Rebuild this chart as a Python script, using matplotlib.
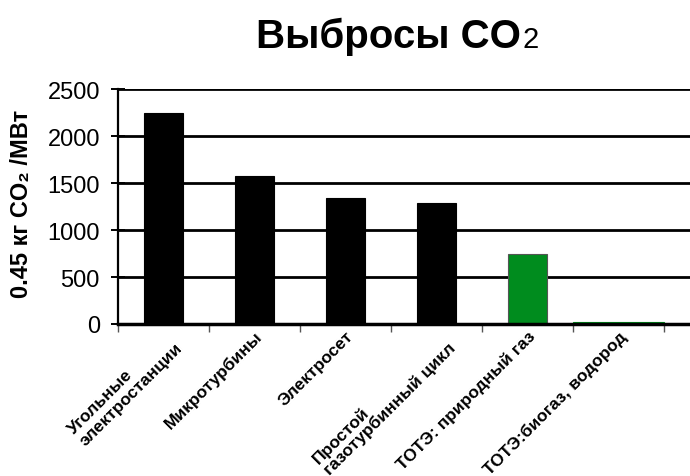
import matplotlib
matplotlib.use("Agg")
import matplotlib.pyplot as plt
import matplotlib.transforms as mtransforms
import numpy as np

plt.rcParams['font.family'] = ['Liberation Sans', 'DejaVu Sans']

categories = ["Угольные\nэлектростанции", "Микротурбины", "Электросет",
              "Простой\nгазотурбинный цикл", "ТОТЭ: природный газ",
              "ТОТЭ:биогаз, водород"]
values = [2250, 1580, 1340, 1290, 740, 25]
colors = ["#000000", "#000000", "#000000", "#000000", "#008c1e", "#008c1e"]
widths = [0.42, 0.42, 0.42, 0.42, 0.42, 1.0]
yticks = [0, 500, 1000, 1500, 2000, 2500]

fig = plt.figure(figsize=(6.9, 4.77), dpi=100)
ax = fig.add_axes([0.171, 0.3187, 0.829, 0.4923])

x = np.arange(len(categories))
for i in range(len(categories)):
    ax.bar(x[i], values[i], width=widths[i], color=colors[i],
           edgecolor="#555555" if i == 4 else colors[i], linewidth=0.8, zorder=3)

ax.set_xlim(-0.5, 5.786)
ax.set_ylim(0, 2500)
ax.set_yticks(yticks)
ax.yaxis.grid(True, color="black", linewidth=2)
ax.set_axisbelow(True)
for s in ["top", "right"]:
    ax.spines[s].set_visible(False)
ax.spines["left"].set_linewidth(1.6)
ax.spines["bottom"].set_linewidth(2.5)
ax.spines["bottom"].set_zorder(4)
ax.tick_params(axis="y", direction="inout", length=10, width=1.4,
               labelsize=17, pad=8)

ax.set_xticks(x)
ax.set_xticks(np.arange(-0.5, 6.0, 1.0), minor=True)
ax.tick_params(axis="x", which="major", length=0, pad=3)
ax.tick_params(axis="x", which="minor", length=6, width=1, color="#555555",
               direction="out")
ax.set_xticklabels(categories, rotation=45, ha="right", va="top",
                   rotation_mode="anchor", fontsize=12.5, fontweight="bold",
                   multialignment="left", linespacing=1.05)
offset = mtransforms.ScaledTranslation(0.0, 0, fig.dpi_scale_trans)
for lbl in ax.get_xticklabels():
    lbl.set_transform(lbl.get_transform() + offset)

fig.text(22/690, 1 - 204/477, "0.45 кг CO₂ /МВт", fontsize=17,
         fontweight="bold", rotation=90, ha="center", va="center")

fig.text(521/690, 1 - 48/477, "Выбросы CO", fontsize=29, fontweight="bold",
         ha="right", va="baseline")
fig.text(522/690, 1 - 48/477, "2", fontsize=21, ha="left", va="baseline")

fig.savefig("out.png", dpi=100)
